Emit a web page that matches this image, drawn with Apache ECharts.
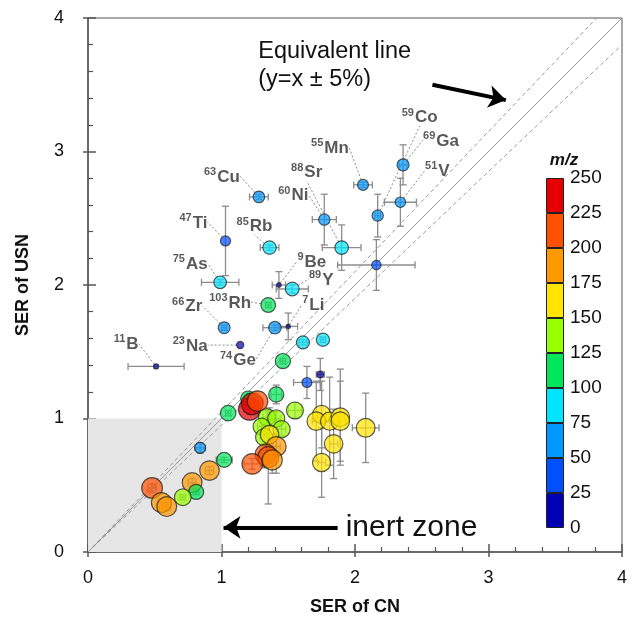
<!DOCTYPE html>
<html><head><meta charset="utf-8">
<script src="https://cdn.jsdelivr.net/npm/echarts@6/dist/echarts.min.js"></script>
<style>html,body{margin:0;padding:0;background:#fff}#c{width:631px;height:628px}</style>
</head><body><div id="c"></div>
<script>
// ---- data ----
const names  = ["11B","23Na","47Ti","63Cu","85Rb","75As","66Zr","103Rh","74Ge","9Be","89Y","7Li","55Mn","88Sr","60Ni","59Co","69Ga","51V",
  "","","","","","","","","","","","","","","","","","","","","","","","","","","","","","","","","","","","","","","","",""];
const serCN  = [0.51,1.14,1.03,1.28,1.36,0.99,1.02,1.35,1.40,1.43,1.53,1.50,2.06,1.90,1.77,2.17,2.36,2.34,
  2.16,1.61,1.76,1.64,1.74,1.46,1.41,1.55,1.05,1.20,1.21,1.23,1.27,1.34,1.41,1.30,1.45,1.32,1.36,1.41,1.33,1.35,1.38,1.23,1.02,0.91,0.78,0.81,0.71,0.48,0.55,0.59,0.84,
  1.75,1.71,1.81,1.89,1.89,2.08,1.84,1.75];
const serUSN = [1.39,1.55,2.33,2.66,2.28,2.02,1.68,1.85,1.68,2.00,1.97,1.69,2.75,2.28,2.49,2.52,2.90,2.62,
  2.15,1.57,1.59,1.27,1.33,1.43,1.18,1.06,1.04,1.15,1.07,1.11,1.13,1.01,1.00,0.94,0.92,0.86,0.88,0.79,0.73,0.71,0.69,0.66,0.69,0.61,0.52,0.45,0.41,0.48,0.37,0.34,0.78,
  1.03,0.98,0.98,1.01,0.98,0.93,0.81,0.67];
const errCN  = [0.21,0,0,0.07,0.07,0.14,0.02,0.02,0.09,0.05,0.12,0.07,0.07,0.145,0.09,0.02,0.03,0.12,
  0.29,0.03,0.02,0.10,0.03,0.02,0.04,0.05,0.02,0.03,0.04,0.04,0.04,0.03,0.03,0.03,0.03,0.03,0.03,0.03,0.03,0.03,0.03,0.06,0.06,0.03,0.03,0.02,0.02,0.03,0.03,0.03,0.04,
  0.03,0.03,0.03,0.03,0.04,0.10,0.03,0.03];
const errUSN = [0,0,0.26,0.02,0.02,0.02,0.02,0.02,0.02,0.10,0.03,0.10,0.02,0.17,0.19,0.16,0.15,0.18,
  0.19,0.02,0.02,0.12,0.12,0.02,0.07,0.06,0.02,0.03,0.04,0.03,0.03,0.05,0.05,0.05,0.05,0.05,0.20,0.20,0.10,0.35,0.10,0.04,0.02,0.03,0.03,0.02,0.02,0.03,0.03,0.03,0.04,
  0.25,0.30,0.33,0.36,0.30,0.26,0.26,0.26];
const massMZ = [11,23,47,63,85,75,66,103,74,9,89,7,55,88,60,59,69,51,
  40,80,82,45,20,110,110,138,115,107,238,232,205,140,140,138,142,145,165,190,210,215,195,205,107,185,190,108,135,208,195,190,55,
  160,165,160,168,165,170,165,160];
const bandEdges  = [0,25,50,75,100,125,150,175,200,225,250];
const bandColors = ["#0000b4","#0050ff","#0099ff","#00e5ff","#00e65a","#99ff00","#ffe400","#ff9900","#ff5000","#e60000"];
const refSlopes  = [1, 1.05, 0.95];
// label offsets (px) relative to the point
const labelOffsets = {"63Cu":[-37,-21],"47Ti":[-32,-19],"85Rb":[-15,-22],"75As":[-30,-19],"66Zr":[-37,-22],"11B":[-30,-23],
  "23Na":[-50,0],"103Rh":[-38,-3],"74Ge":[-37,32],"9Be":[33,-24],"89Y":[29,-10],"7Li":[25,-22],"55Mn":[-33,-38],
  "88Sr":[-35,-76],"60Ni":[-31,-25],"59Co":[42,-99],"69Ga":[38,-25],"51V":[37,-32]};

const FONT = "Liberation Sans, Arial, sans-serif";
const chart = echarts.init(document.getElementById('c'), null, {renderer:'canvas'});

const pts = serCN.map((x,i)=>({value:[x, serUSN[i], massMZ[i], errCN[i], errUSN[i]], name:names[i], label:{show: names[i] !== ""}}));
const errData = serCN.map((x,i)=>[x, serUSN[i], errCN[i], errUSN[i]]);

function renderErr(params, api){
  const x=api.value(0), y=api.value(1), ex=api.value(2), ey=api.value(3);
  const c = api.coord([x,y]);
  const st = {stroke:'#8c8c8c', lineWidth:1.3};
  const cap = 3.5, ch = [];
  if (ey>0){
    const t=api.coord([x,y+ey]), b=api.coord([x,y-ey]);
    ch.push({type:'line', shape:{x1:c[0],y1:t[1],x2:c[0],y2:b[1]}, style:st});
    ch.push({type:'line', shape:{x1:c[0]-cap,y1:t[1],x2:c[0]+cap,y2:t[1]}, style:st});
    ch.push({type:'line', shape:{x1:c[0]-cap,y1:b[1],x2:c[0]+cap,y2:b[1]}, style:st});
  }
  if (ex>0){
    const l=api.coord([x-ex,y]), r=api.coord([x+ex,y]);
    ch.push({type:'line', shape:{x1:l[0],y1:c[1],x2:r[0],y2:c[1]}, style:st});
    ch.push({type:'line', shape:{x1:l[0],y1:c[1]-cap,x2:l[0],y2:c[1]+cap}, style:st});
    ch.push({type:'line', shape:{x1:r[0],y1:c[1]-cap,x2:r[0],y2:c[1]+cap}, style:st});
  }
  return {type:'group', children:ch};
}

const refSeries = refSlopes.map((s,i)=>({
  type:'line', xAxisIndex:0, yAxisIndex:0, silent:true, symbol:'none', z:2,
  data:[[0,0],[Math.min(4,4/s), Math.min(4,4*s)]],
  lineStyle:{color:'#9a9a9a', width:1, type: s===1?'solid':[4,3]},
  markArea: i===0 ? {silent:true, itemStyle:{color:'#e6e6e6'}, data:[[{coord:[0,0]},{coord:[1,1]}]]} : undefined,
  markLine: i===0 ? {silent:true, symbol:['none','arrow'], symbolSize:17, label:{show:false},
     lineStyle:{color:'#000', width:4, type:'solid'},
     emphasis:{disabled:true},
     data:[[{coord:[2.58,3.50]},{coord:[3.13,3.385]}],[{coord:[1.87,0.185]},{coord:[1.015,0.185]}]]} : undefined
}));

const cbSeries = bandColors.map((col,i)=>({
  type:'bar', xAxisIndex:2, yAxisIndex:2, stack:'cb', silent:true, barWidth:'100%',
  data:[bandEdges[i+1]-bandEdges[i]],
  itemStyle:{color:col, borderColor:'#222', borderWidth:1}
}));

const option = {
  animation:false,
  backgroundColor:'#fff',
  textStyle:{fontFamily:FONT},
  grid:[
    {left:88, top:18, width:534, height:534, show:true, borderColor:'#555', borderWidth:1, backgroundColor:'transparent'},
    {left:546, top:178, width:18, height:350}
  ],
  xAxis:[
    {type:'value', gridIndex:0, min:0, max:4, interval:1, position:'bottom',
     axisLine:{show:true, lineStyle:{color:'#555', width:1.5}},
     axisTick:{show:true, inside:true, length:8, lineStyle:{color:'#555', width:1.5}},
     minorTick:{show:true, splitNumber:5, length:5, lineStyle:{color:'#555', width:1.2}},
     splitLine:{show:false},
     axisLabel:{fontSize:18, color:'#111', margin:17, fontFamily:FONT},
     name:'SER of CN', nameLocation:'middle', nameGap:46,
     nameTextStyle:{fontSize:18, fontWeight:'bold', color:'#111', fontFamily:FONT}},
    {type:'value', gridIndex:0, min:0, max:4, interval:1, position:'bottom',
     axisLine:{show:false}, axisLabel:{show:false}, splitLine:{show:false},
     axisTick:{show:true, inside:false, length:5, lineStyle:{color:'#555', width:1.5}}},
    {type:'category', gridIndex:1, data:['m/z'], show:false}
  ],
  yAxis:[
    {type:'value', gridIndex:0, min:0, max:4, interval:1, position:'left',
     axisLine:{show:true, lineStyle:{color:'#555', width:1.5}},
     axisTick:{show:true, inside:true, length:8, lineStyle:{color:'#555', width:1.5}},
     minorTick:{show:true, splitNumber:5, length:5, lineStyle:{color:'#555', width:1.2}},
     splitLine:{show:false},
     axisLabel:{fontSize:18, color:'#111', margin:24, fontFamily:FONT},
     name:'SER of USN', nameLocation:'middle', nameGap:56,
     nameTextStyle:{fontSize:18, fontWeight:'bold', color:'#111', fontFamily:FONT}},
    {type:'value', gridIndex:0, min:0, max:4, interval:1, position:'left',
     axisLine:{show:false}, axisLabel:{show:false}, splitLine:{show:false},
     axisTick:{show:true, inside:false, length:5, lineStyle:{color:'#555', width:1.5}}},
    {type:'value', gridIndex:1, min:0, max:250, interval:25, position:'right',
     axisLine:{show:false}, axisTick:{show:false}, splitLine:{show:false},
     axisLabel:{fontSize:19, color:'#111', margin:6, fontFamily:FONT},
     name:'m/z', nameLocation:'end', nameGap:9,
     nameTextStyle:{fontSize:17, fontStyle:'italic', fontWeight:'bold', color:'#111', align:'center', fontFamily:FONT}}
  ],
  visualMap:{type:'piecewise', show:false, seriesIndex:4, dimension:2,
    pieces: bandColors.map((c,i)=>({gte:bandEdges[i], lt:bandEdges[i+1] + (i===bandColors.length-1?1:0), color:c}))},
  series:[
    ...refSeries,
    {type:'custom', xAxisIndex:0, yAxisIndex:0, renderItem:renderErr, data:errData, z:3, silent:true},
    {type:'scatter', xAxisIndex:0, yAxisIndex:0, z:4, data:pts,
     symbolSize: v => 0.5 + 1.4*Math.sqrt(v[2]),
     itemStyle:{opacity:0.7, borderColor:'#1a1a1a', borderWidth:1.2},
     label:{show:false, position:'inside', color:'#111',
       formatter: p => { const m = p.name.match(/^(\d+)(\D+)$/); return m ? '{s|'+m[1]+'}{e|'+m[2]+'}' : ''; },
       rich:{
         s:{fontSize:11, fontWeight:'bold', color:'#111', fontFamily:FONT, verticalAlign:'bottom', padding:[0,1,8,0]},
         e:{fontSize:17, fontWeight:'bold', color:'#111', fontFamily:FONT, verticalAlign:'bottom'}
       }},
     labelLine:{show:true, length2:0, lineStyle:{color:'#8c8c8c', width:1, type:[2,2]}},
     labelLayout: p => { const o = labelOffsets[names[p.dataIndex]]; return o ? {dx:o[0], dy:o[1]} : {}; }
    },
    ...cbSeries
  ]
};
chart.setOption(option);

// annotation texts placed in data coordinates
const annos = [
  {pos:[1.275,3.75], text:'Equivalent line', size:23.5, align:'left'},
  {pos:[1.275,3.54], text:'(y=x \u00b1 5%)', size:23.5, align:'left'},
  {pos:[1.93,0.185], text:'inert zone', size:30, align:'left'}
];
chart.setOption({graphic: annos.map(a=>{
  const p = chart.convertToPixel({gridIndex:0}, a.pos);
  return {type:'text', x:p[0], y:p[1], z:10, silent:true,
    style:{text:a.text, fontSize:a.size, fontFamily:FONT, fill:'#111', align:a.align, verticalAlign:'middle'}};
})});
</script></body></html>
